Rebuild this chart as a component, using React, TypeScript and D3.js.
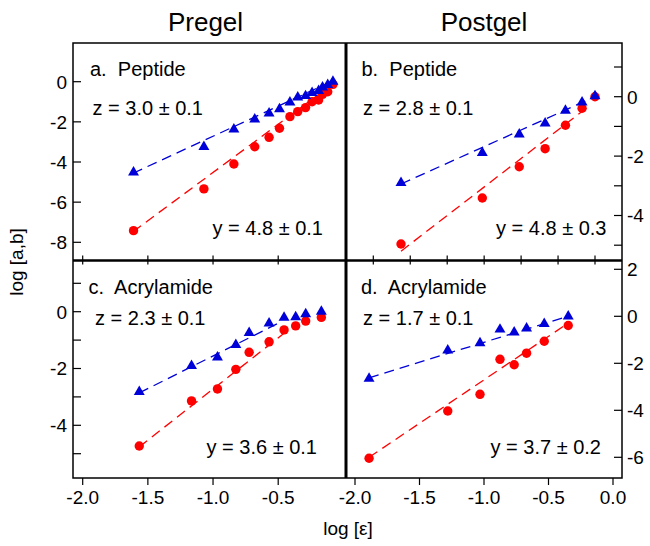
import React from 'react';
import * as d3 from 'd3';

// ---------- data ----------
const aX = [-1.61, -1.07, -0.84, -0.68, -0.57, -0.49, -0.41, -0.35, -0.29, -0.24, -0.19, -0.16, -0.12, -0.08];
const aZ = [-4.51, -3.24, -2.37, -1.87, -1.57, -1.36, -1.03, -0.78, -0.71, -0.55, -0.45, -0.28, -0.16, 0.0];
const aY = [-7.42, -5.34, -4.1, -3.24, -2.77, -2.32, -1.74, -1.49, -1.29, -1.0, -0.91, -0.63, -0.5, -0.13];

const bX = [-1.05, -0.61, -0.41, -0.27, -0.16, -0.07, 0.0];
const bZ = [-2.9, -1.89, -1.27, -0.9, -0.47, -0.19, 0.02];
const bY = [-4.96, -3.41, -2.36, -1.75, -0.96, -0.39, 0.0];

const cX = [-1.566, -1.165, -0.966, -0.825, -0.723, -0.57, -0.455, -0.366, -0.289, -0.169];
const cZ = [-2.82, -1.91, -1.61, -1.17, -0.74, -0.41, -0.21, -0.19, -0.08, 0.0];
const cY = [-4.73, -3.14, -2.72, -2.03, -1.43, -1.06, -0.64, -0.5, -0.33, -0.2];

const dX = [-1.891, -1.281, -1.031, -0.876, -0.766, -0.67, -0.533, -0.347];
const dZ = [-2.65, -1.45, -1.14, -0.56, -0.68, -0.51, -0.32, 0.0];
const dY = [-6.04, -4.03, -3.32, -1.83, -2.06, -1.57, -1.06, -0.39];

// fits: [xStart, xEnd, yStart, slope]
const aFitZ = [-1.614, -0.08, -4.56, 3.0];
const aFitY = [-1.614, -0.08, -7.47, 4.8];
const bFitZ = [-1.05, 0.0, -2.94, 2.8];
const bFitY = [-1.05, -0.04, -5.2, 4.8];
const cFitZ = [-1.566, -0.47, -2.86, 2.3];
const cFitY = [-1.566, -0.42, -4.76, 3.6];
const dFitZ = [-1.891, -0.35, -2.62, 1.7];
const dFitY = [-1.891, -0.38, -6.0, 3.7];

const panelLabels = ['a.  Peptide', 'b.  Peptide', 'c.  Acrylamide', 'd.  Acrylamide'];
const zLabels = ['z = 3.0 ± 0.1', 'z = 2.8 ± 0.1', 'z = 2.3 ± 0.1', 'z = 1.7 ± 0.1'];
const yLabels = ['y = 4.8 ± 0.1', 'y = 4.8 ± 0.3', 'y = 3.6 ± 0.1', 'y = 3.7 ± 0.2'];
const columnTitles = ['Pregel', 'Postgel'];

const aYTicks = [0, -2, -4, -6, -8];
const bYTicks = [1, 0, -1, -2, -3, -4, -5];
const cYTicks = [1, 0, -1, -2, -3, -4, -5];
const dYTicks = [2, 0, -2, -4, -6];
const leftXTicks = [-2.0, -1.5, -1.0, -0.5];
const rightXTicks = [-2.0, -1.5, -1.0, -0.5, 0.0];
const bXTicks = [-1.2, -1.0, -0.8, -0.6, -0.4, -0.2, 0.0];

// ---------- layout ----------
const FL = 73, FR = 622, FT = 43, FB = 478, MX = 346, MY = 260.5;
const RED = '#ff0000';
const BLUE = '#0000d8';
const FONT = '"Liberation Sans", Arial, Helvetica, sans-serif';

type Panel = {
  x: d3.ScaleLinear<number, number>;
  y: d3.ScaleLinear<number, number>;
  xs: number[]; zs: number[]; ys: number[];
  fz: number[]; fy: number[];
  idx: number;
  left: number; top: number; right: number; bottom: number;
  yTicks: number[]; yLabelled: (v: number) => boolean; ySide: 'left' | 'right';
  xTicks: number[]; xPos: 'mid' | 'bottom';
  textX: number; yTextX: number;
};

function makePanels(): Panel[] {
  const aXs = d3.scaleLinear().domain([-2.0, -0.5]).range([82.7, 278.2]);
  const cXs = d3.scaleLinear().domain([-2.0, -0.5]).range([82.7, 278.2]);
  const bXs = d3.scaleLinear().domain([-1.2, 0.0]).range([373.3, 595]);
  const dXs = d3.scaleLinear().domain([-2.0, 0.0]).range([355, 613]);
  const aYs = d3.scaleLinear().domain([0, -8]).range([81.7, 242.3]);
  const bYs = d3.scaleLinear().domain([0, -4]).range([96.7, 215.5]);
  const cYs = d3.scaleLinear().domain([0, -4]).range([311.7, 425.3]);
  const dYs = d3.scaleLinear().domain([2, -6]).range([269.3, 457.3]);
  return [
    { x: aXs, y: aYs, xs: aX, zs: aZ, ys: aY, fz: aFitZ, fy: aFitY, idx: 0, left: FL, top: FT, right: MX, bottom: MY,
      yTicks: aYTicks, yLabelled: () => true, ySide: 'left', xTicks: leftXTicks, xPos: 'mid', textX: 90, yTextX: 323 },
    { x: bXs, y: bYs, xs: bX, zs: bZ, ys: bY, fz: bFitZ, fy: bFitY, idx: 1, left: MX, top: FT, right: FR, bottom: MY,
      yTicks: bYTicks, yLabelled: (v) => v % 2 === 0, ySide: 'right', xTicks: bXTicks, xPos: 'mid', textX: 361.5, yTextX: 606.5 },
    { x: cXs, y: cYs, xs: cX, zs: cZ, ys: cY, fz: cFitZ, fy: cFitY, idx: 2, left: FL, top: MY, right: MX, bottom: FB,
      yTicks: cYTicks, yLabelled: (v) => v % 2 === 0, ySide: 'left', xTicks: leftXTicks, xPos: 'bottom', textX: 88.5, yTextX: 317 },
    { x: dXs, y: dYs, xs: dX, zs: dZ, ys: dY, fz: dFitZ, fy: dFitY, idx: 3, left: MX, top: MY, right: FR, bottom: FB,
      yTicks: dYTicks, yLabelled: () => true, ySide: 'right', xTicks: rightXTicks, xPos: 'bottom', textX: 361, yTextX: 601 },
  ];
}

const tri = d3.symbol().type(d3.symbolTriangle).size(52)() as string;

function fitLine(p: Panel, f: number[]) {
  const [x0, x1, y0, s] = f;
  const gen = d3.line<number>().x((v) => p.x(v)).y((v) => p.y(y0 + s * (v - x0)));
  return gen([x0, x1]) as string;
}

const pre = { whiteSpace: 'pre' as const };

function PanelView({ p }: { p: Panel }) {
  const top = p.idx < 2;
  const labelBase = top ? 76 : 293.5;
  const zBase = top ? 115 : 325;
  const yBase = top ? 234.5 : 453.5;
  const zX = p.idx === 0 ? 92.5 : p.idx === 2 ? 95 : 363;
  return (
    <g>
      <path d={fitLine(p, p.fy)} stroke={RED} strokeWidth={1.3} strokeDasharray="10,6" fill="none" />
      <path d={fitLine(p, p.fz)} stroke={BLUE} strokeWidth={1.3} strokeDasharray="10,6" fill="none" />
      {p.xs.map((v, i) => (
        <circle key={'c' + i} cx={p.x(v)} cy={p.y(p.ys[i])} r={4.7} fill={RED} />
      ))}
      {p.xs.map((v, i) => (
        <path key={'t' + i} d={tri} transform={`translate(${p.x(v)},${p.y(p.zs[i])})`} fill={BLUE} />
      ))}
      {p.yTicks.map((v) => {
        const yy = p.y(v);
        const x0 = p.ySide === 'left' ? p.left : p.right;
        const x1 = p.ySide === 'left' ? p.left + 8 : p.right - 8;
        return (
          <g key={'yt' + v}>
            <line x1={x0} x2={x1} y1={yy} y2={yy} stroke="#000" strokeWidth={1.2} />
            {p.yLabelled(v) && (
              <text x={p.ySide === 'left' ? p.left - 6 : p.right + 5} y={yy} dy="0.36em"
                textAnchor={p.ySide === 'left' ? 'end' : 'start'} fontSize={19} fontFamily={FONT}>
                {d3.format('d')(v).replace('−', '-')}
              </text>
            )}
          </g>
        );
      })}
      {p.xTicks.map((v) => {
        const xx = p.x(v);
        if (p.xPos === 'mid') {
          return <line key={'xt' + v} x1={xx} x2={xx} y1={MY - 5} y2={MY + 4} stroke="#000" strokeWidth={1.2} />;
        }
        return (
          <g key={'xt' + v}>
            <line x1={xx} x2={xx} y1={FB} y2={FB + 7} stroke="#000" strokeWidth={1.2} />
            <text x={xx} y={504} textAnchor="middle" fontSize={19} fontFamily={FONT}>
              {d3.format('.1f')(v).replace('−', '-')}
            </text>
          </g>
        );
      })}
      <text x={p.textX} y={labelBase} fontSize={20} fontFamily={FONT} style={pre}>{panelLabels[p.idx]}</text>
      <text x={zX} y={zBase} fontSize={20} fontFamily={FONT} style={pre}>{zLabels[p.idx]}</text>
      <text x={p.yTextX} y={yBase} fontSize={20} fontFamily={FONT} textAnchor="end" style={pre}>{yLabels[p.idx]}</text>
    </g>
  );
}

export default function App() {
  const panels = makePanels();
  return (
    <svg width={650} height={546} style={{ position: 'absolute', left: 0, top: 0, background: '#fff' }}>
      <rect x={0} y={0} width={650} height={546} fill="#fff" />
      {panels.map((p) => (
        <PanelView key={p.idx} p={p} />
      ))}
      <rect x={FL} y={FT} width={FR - FL} height={FB - FT} fill="none" stroke="#000" strokeWidth={1.5} />
      <line x1={MX} x2={MX} y1={FT} y2={FB} stroke="#000" strokeWidth={3} />
      <line x1={FL} x2={FR} y1={MY} y2={MY} stroke="#000" strokeWidth={2.4} />
      <text x={(FL + MX) / 2 - 4} y={31} textAnchor="middle" fontSize={26} fontFamily={FONT}>{columnTitles[0]}</text>
      <text x={(MX + FR) / 2} y={31} textAnchor="middle" fontSize={26} fontFamily={FONT}>{columnTitles[1]}</text>
      <text x={348} y={535} textAnchor="middle" fontSize={19} fontFamily={FONT}>log [ε]</text>
      <text transform="translate(23,262) rotate(-90)" textAnchor="middle" fontSize={19} fontFamily={FONT}>log [a,b]</text>
    </svg>
  );
}
